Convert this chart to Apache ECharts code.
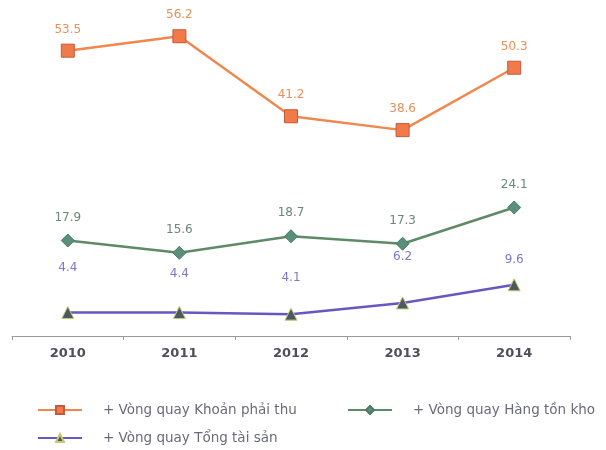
<!DOCTYPE html>
<html>
<head>
<meta charset="utf-8">
<script src="https://cdn.jsdelivr.net/npm/echarts@6/dist/echarts.min.js"></script>
<style>
  html, body { margin: 0; padding: 0; background: #ffffff; }
  #chart { width: 606px; height: 450px; }
</style>
</head>
<body>
<div id="chart"></div>
<script>
// Years on the category axis
var years = ['2010', '2011', '2012', '2013', '2014'];
// Turnover ratios
var receivablesTurnover = [53.5, 56.2, 41.2, 38.6, 50.3];
var inventoryTurnover = [17.9, 15.6, 18.7, 17.3, 24.1];
var totalAssetTurnover = [4.4, 4.4, 4.1, 6.2, 9.6];
// Series names
var seriesNames = [
  '+ Vòng quay Khoản phải thu',
  '+ Vòng quay Hàng tồn kho',
  '+ Vòng quay Tổng tài sản'
];

var FONT = 'DejaVu Sans';
// Gaps between each total-asset point and its value label
var assetLabelGaps = [32, 26, 24, 34, 12];

var chart = echarts.init(document.getElementById('chart'), null, { renderer: 'canvas' });

var legendText = { fontFamily: FONT, fontSize: 13.5, color: '#6a6a7a', padding: [0, 0, 0, 16] };

function legendAt(name, left, top) {
  return {
    data: [name], left: left, top: top, padding: 0,
    itemWidth: 44, itemHeight: 10, itemGap: 10, textStyle: legendText
  };
}

chart.setOption({
  animation: false,
  backgroundColor: '#ffffff',
  grid: { left: 12, right: 36, top: 16, bottom: 114, containLabel: false },
  legend: [
    legendAt(seriesNames[0], 37, 403),
    legendAt(seriesNames[1], 347, 403),
    legendAt(seriesNames[2], 37, 431)
  ],
  xAxis: {
    type: 'category',
    data: years,
    boundaryGap: true,
    axisLine: { show: true, lineStyle: { color: '#9a9a9a', width: 1 } },
    axisTick: { show: true, length: 4, inside: false, lineStyle: { color: '#9a9a9a' } },
    axisLabel: { fontFamily: FONT, fontSize: 13, fontWeight: 'bold', color: '#4e4e5c', margin: 11 }
  },
  yAxis: {
    type: 'value',
    min: 0,
    max: 60,
    show: false,
    splitLine: { show: false }
  },
  series: [
    {
      name: seriesNames[0],
      type: 'line',
      data: receivablesTurnover,
      symbol: 'rect',
      symbolSize: 13,
      lineStyle: { color: '#f0884e', width: 2.5 },
      itemStyle: { color: '#f07a4a', borderColor: '#c8583a', borderWidth: 1 },
      label: { show: true, position: 'top', distance: 8, fontFamily: FONT, fontSize: 12, color: '#e8905a', formatter: function (p) { return p.value.toFixed(1); } }
    },
    {
      name: seriesNames[1],
      type: 'line',
      data: inventoryTurnover,
      symbol: 'diamond',
      symbolSize: 13,
      lineStyle: { color: '#5e8a68', width: 2.5 },
      itemStyle: { color: '#5a8f7c', borderColor: '#4a7a68', borderWidth: 1 },
      label: { show: true, position: 'top', distance: 10, fontFamily: FONT, fontSize: 12, color: '#6a8878', formatter: function (p) { return p.value.toFixed(1); } }
    },
    {
      name: seriesNames[2],
      type: 'line',
      data: totalAssetTurnover.map(function (v, i) {
        return { value: v, label: { distance: assetLabelGaps[i] } };
      }),
      symbol: 'triangle',
      symbolSize: 12,
      lineStyle: { color: '#6658c0', width: 2.5 },
      itemStyle: { color: '#4a5a60', borderColor: '#c8c870', borderWidth: 1 },
      label: { show: true, position: 'top', fontFamily: FONT, fontSize: 12, color: '#7a78c8', formatter: function (p) { return p.value.toFixed(1); } }
    }
  ]
});
</script>
</body>
</html>
